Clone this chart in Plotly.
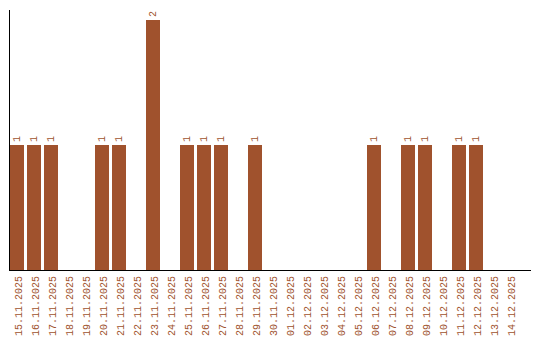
import plotly.graph_objects as go

dates = ["15.11.2025", "16.11.2025", "17.11.2025", "18.11.2025", "19.11.2025",
         "20.11.2025", "21.11.2025", "22.11.2025", "23.11.2025", "24.11.2025",
         "25.11.2025", "26.11.2025", "27.11.2025", "28.11.2025", "29.11.2025",
         "30.11.2025", "01.12.2025", "02.12.2025", "03.12.2025", "04.12.2025",
         "05.12.2025", "06.12.2025", "07.12.2025", "08.12.2025", "09.12.2025",
         "10.12.2025", "11.12.2025", "12.12.2025", "13.12.2025", "14.12.2025"]
counts = [1, 1, 1, 0, 0, 1, 1, 0, 2, 0,
          1, 1, 1, 0, 1, 0, 0, 0, 0, 0,
          0, 1, 0, 1, 1, 0, 1, 1, 0, 0]

COLOR = "#a0522d"
BAR_W = 14 / 17

xs = list(range(len(dates)))
texts = [str(v) if v else "" for v in counts]

fig = go.Figure(go.Bar(
    x=xs, y=counts, width=BAR_W, offset=0,
    marker=dict(color=COLOR, line=dict(width=0)),
    text=texts, textposition="outside", textangle=-90,
    textfont=dict(family="Liberation Mono", size=10, color=COLOR),
    cliponaxis=False,
))

fig.update_layout(
    width=540, height=340,
    margin=dict(l=10, r=9, t=10, b=70),
    plot_bgcolor="white", paper_bgcolor="white",
    showlegend=False,
    xaxis=dict(range=[0, 521 / 17], tickvals=[i + BAR_W / 2 + 0.1 for i in xs], ticktext=dates,
               tickangle=-90, showgrid=False, zeroline=False, showline=True,
               linecolor="black", linewidth=1, ticks="", automargin=False,
               ticklabelstandoff=1,
               tickfont=dict(family="Liberation Mono", size=10, color=COLOR)),
    yaxis=dict(range=[0, 2.08], showgrid=False, zeroline=False, showline=True,
               linecolor="black", linewidth=1, showticklabels=False, ticks="",
               automargin=False),
)

fig.write_html("out.html")
